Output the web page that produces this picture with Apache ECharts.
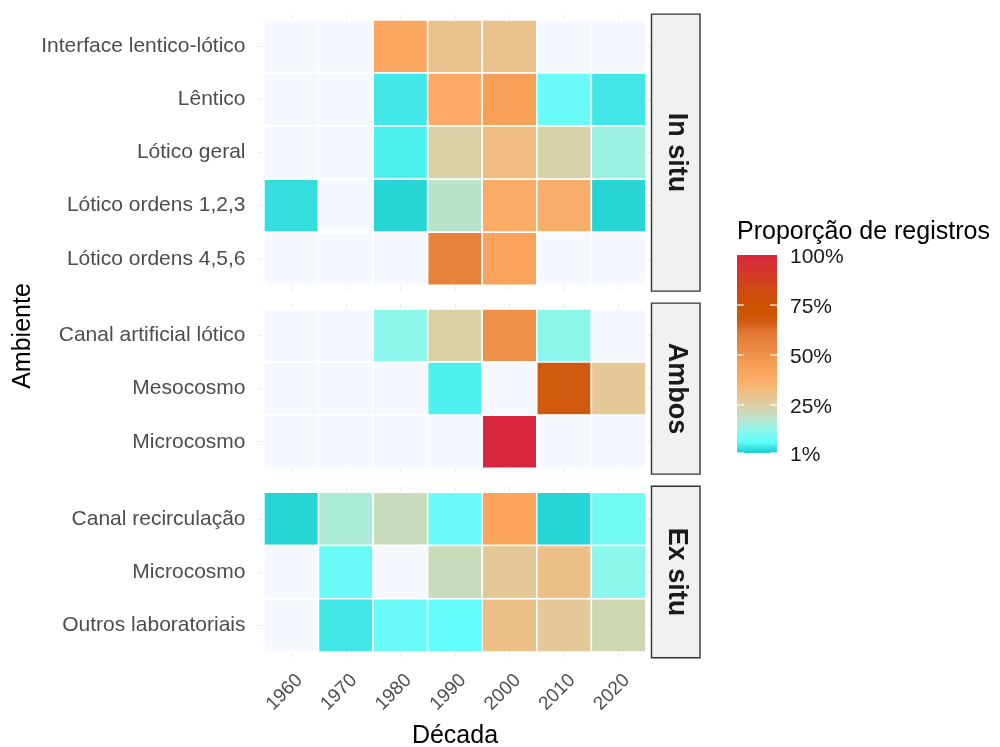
<!DOCTYPE html>
<html>
<head>
<meta charset="utf-8">
<script src="https://cdn.jsdelivr.net/npm/echarts@6/dist/echarts.min.js"></script>
<style>
html,body{margin:0;padding:0;background:#ffffff;}
#chart{width:1000px;height:747px;}
</style>
</head>
<body>
<div id="chart"></div>
<script>
// ---------------- DATA ----------------
const decades = ['1960', '1970', '1980', '1990', '2000', '2010', '2020'];
const panelNames = ['In situ', 'Ambos', 'Ex situ'];

const rowsInSitu = ['Interface lentico-lótico', 'Lêntico', 'Lótico geral', 'Lótico ordens 1,2,3', 'Lótico ordens 4,5,6'];
const rowsAmbos = ['Canal artificial lótico', 'Mesocosmo', 'Microcosmo'];
const rowsExSitu = ['Canal recirculação', 'Microcosmo', 'Outros laboratoriais'];

// Proporção de registros (%) por década; null = sem registros
const interfaceLenticoLotico = [null, null, 40, 30, 30, null, null];
const lentico                = [null, null, 4, 39, 45, 8, 4];
const loticoGeral            = [null, null, 5, 25, 32, 24, 14];
const loticoOrdens123        = [3, null, 2, 18, 38, 37, 2];
const loticoOrdens456        = [null, null, null, 57, 43, null, null];

const canalArtificialLotico  = [null, null, 12, 25, 51, 12, null];
const mesocosmo              = [null, null, null, 5, null, 67, 28];
const microcosmoAmbos        = [null, null, null, null, 100, null, null];

const canalRecirculacao      = [2, 16, 21, 8, 42, 2, 9];
const microcosmoExSitu       = [null, 8, null, 21, 28, 31, 12];
const outrosLaboratoriais    = [null, 4, 8, 7, 31, 28, 22];

const legendBreaks = [1, 25, 50, 75, 100];
const legendLabels = ['1%', '25%', '50%', '75%', '100%'];

// ---------------- STYLE / LAYOUT ----------------
const FONT = "'Liberation Sans', Arial, sans-serif";
const NA_COLOR = '#f5f8fe';
const GRID_COLOR = '#ebebeb';
// colours evenly spaced from 1% to 100%
const gradColors = [
  '#1ccccc', '#5efdfc', '#8af6ec', '#b6e6cf', '#d3d4ae', '#e6c795',
  '#f4b676', '#fca862', '#f7a058', '#ee9048', '#e8843c', '#e27434',
  '#cf5a0e', '#cc5500', '#cd5006', '#d04814', '#d33c24', '#d53230', '#d7263d'
];

const panelMatrices = [
  [interfaceLenticoLotico, lentico, loticoGeral, loticoOrdens123, loticoOrdens456],
  [canalArtificialLotico, mesocosmo, microcosmoAmbos],
  [canalRecirculacao, microcosmoExSitu, outrosLaboratoriais]
];
const panelRows = [rowsInSitu, rowsAmbos, rowsExSitu];

const gridLeft = 258.5, gridWidth = 392.9;
const gridTops = [14.6, 303.6, 486.8];
const gridHeights = [276.0, 170.0, 170.5];
const LABEL_SHIFT = 0.15;

function renderTile(params, api) {
  const x = api.value(0), y = api.value(1), v = api.value(2);
  const a = api.coord([x - 0.5, y - 0.5]);
  const b = api.coord([x + 0.5, y + 0.5]);
  const fill = (v == null || isNaN(v)) ? NA_COLOR : api.visual('color');
  return {
    type: 'rect',
    shape: {
      x: Math.min(a[0], b[0]), y: Math.min(a[1], b[1]),
      width: Math.abs(b[0] - a[0]), height: Math.abs(b[1] - a[1])
    },
    style: { fill: fill, stroke: '#ffffff', lineWidth: 1.5 }
  };
}

const grids = [], xAxes = [], yAxes = [], series = [];
const decadeIdx = decades.map((d, i) => i);

panelMatrices.forEach((mat, p) => {
  const rows = panelRows[p];
  const rowIdx = rows.map((r, i) => i);
  grids.push({
    left: gridLeft, top: gridTops[p], width: gridWidth, height: gridHeights[p],
    containLabel: false, outerBoundsMode: 'none'
  });
  const isBottom = p === panelMatrices.length - 1;
  xAxes.push({
    type: 'value', gridIndex: p, min: -0.6, max: decades.length - 0.4,
    axisLine: { show: false },
    axisTick: { show: false, customValues: decadeIdx },
    splitLine: { show: true, lineStyle: { color: GRID_COLOR, width: 1 } },
    axisLabel: isBottom ? {
      show: true,
      customValues: decadeIdx.map(i => i + LABEL_SHIFT),
      rotate: 45, margin: 20, fontSize: 19, color: '#4d4d4d', fontFamily: FONT,
      formatter: v => decades[Math.round(v - LABEL_SHIFT)]
    } : { show: false }
  });
  yAxes.push({
    type: 'value', gridIndex: p, inverse: true, min: -0.6, max: rows.length - 0.4,
    axisLine: { show: false },
    axisTick: { show: false, customValues: rowIdx },
    splitLine: { show: true, lineStyle: { color: GRID_COLOR, width: 1 } },
    axisLabel: {
      customValues: rowIdx, margin: 13, fontSize: 21, color: '#4d4d4d', fontFamily: FONT,
      padding: [5, 0, 0, 0],
      formatter: v => rows[Math.round(v)]
    }
  });
  const data = [];
  mat.forEach((vals, r) => {
    vals.forEach((v, c) => { data.push([c, r, v]); });
  });
  series.push({
    type: 'custom', xAxisIndex: p, yAxisIndex: p,
    dimensions: ['x', 'y', 'v'], encode: { x: 0, y: 1 },
    renderItem: renderTile, data: data, clip: false, silent: true
  });
});

// ---------- graphic elements: strips, titles, legend ----------
const graphics = [];
panelNames.forEach((name, p) => {
  graphics.push({
    type: 'rect', z: 10,
    shape: { x: 651.5, y: gridTops[p] - 0.5, width: 48.5, height: gridHeights[p] + 1 },
    style: { fill: '#f1f1f1', stroke: '#333333', lineWidth: 1.4 }
  });
  graphics.push({
    type: 'text', z: 11,
    x: 676, y: gridTops[p] + gridHeights[p] / 2, rotation: -Math.PI / 2,
    style: {
      text: name, font: "bold 27px " + FONT, fill: '#1a1a1a',
      textAlign: 'center', textVerticalAlign: 'middle'
    }
  });
});
graphics.push({
  type: 'text', x: 23, y: 336, rotation: Math.PI / 2,
  style: { text: 'Ambiente', font: "25px " + FONT, fill: '#000000', textAlign: 'center', textVerticalAlign: 'middle' }
});
graphics.push({
  type: 'text', x: 455, y: 736,
  style: { text: 'Década', font: "25px " + FONT, fill: '#000000', textAlign: 'center', textVerticalAlign: 'middle' }
});

// legend
const lgX = 737, lgTop = 255, lgBottom = 453, lgW = 40;
const vmMin = 1, vmMax = 100;
const lgY = v => lgBottom - (v - vmMin) / (vmMax - vmMin) * (lgBottom - lgTop);
graphics.push({
  type: 'text', x: 737, y: 232,
  style: { text: 'Proporção de registros', font: "25px " + FONT, fill: '#000000', textAlign: 'left', textVerticalAlign: 'middle' }
});
graphics.push({
  type: 'rect',
  shape: { x: lgX, y: lgTop, width: lgW, height: lgBottom - lgTop },
  style: {
    fill: new echarts.graphic.LinearGradient(0, 1, 0, 0,
      gradColors.map((c, i) => ({ offset: i / (gradColors.length - 1), color: c })))
  }
});
legendBreaks.forEach((b, i) => {
  const y = lgY(b);
  if (b < vmMax) {
    graphics.push({ type: 'line', shape: { x1: lgX, y1: y, x2: lgX + 7, y2: y }, style: { stroke: '#ffffff', lineWidth: 1.2 } });
    graphics.push({ type: 'line', shape: { x1: lgX + lgW - 7, y1: y, x2: lgX + lgW, y2: y }, style: { stroke: '#ffffff', lineWidth: 1.2 } });
  }
  graphics.push({
    type: 'text', x: 790, y: y + 2,
    style: { text: legendLabels[i], font: "21px " + FONT, fill: '#1a1a1a', textAlign: 'left', textVerticalAlign: 'middle' }
  });
});

const chart = echarts.init(document.getElementById('chart'), null, { renderer: 'canvas' });
chart.setOption({
  animation: false,
  backgroundColor: '#ffffff',
  grid: grids,
  xAxis: xAxes,
  yAxis: yAxes,
  visualMap: {
    type: 'continuous', show: false, min: vmMin, max: vmMax, dimension: 2,
    seriesIndex: [0, 1, 2], inRange: { color: gradColors }, outOfRange: { color: NA_COLOR }
  },
  series: series,
  graphic: graphics
});
</script>
</body>
</html>
